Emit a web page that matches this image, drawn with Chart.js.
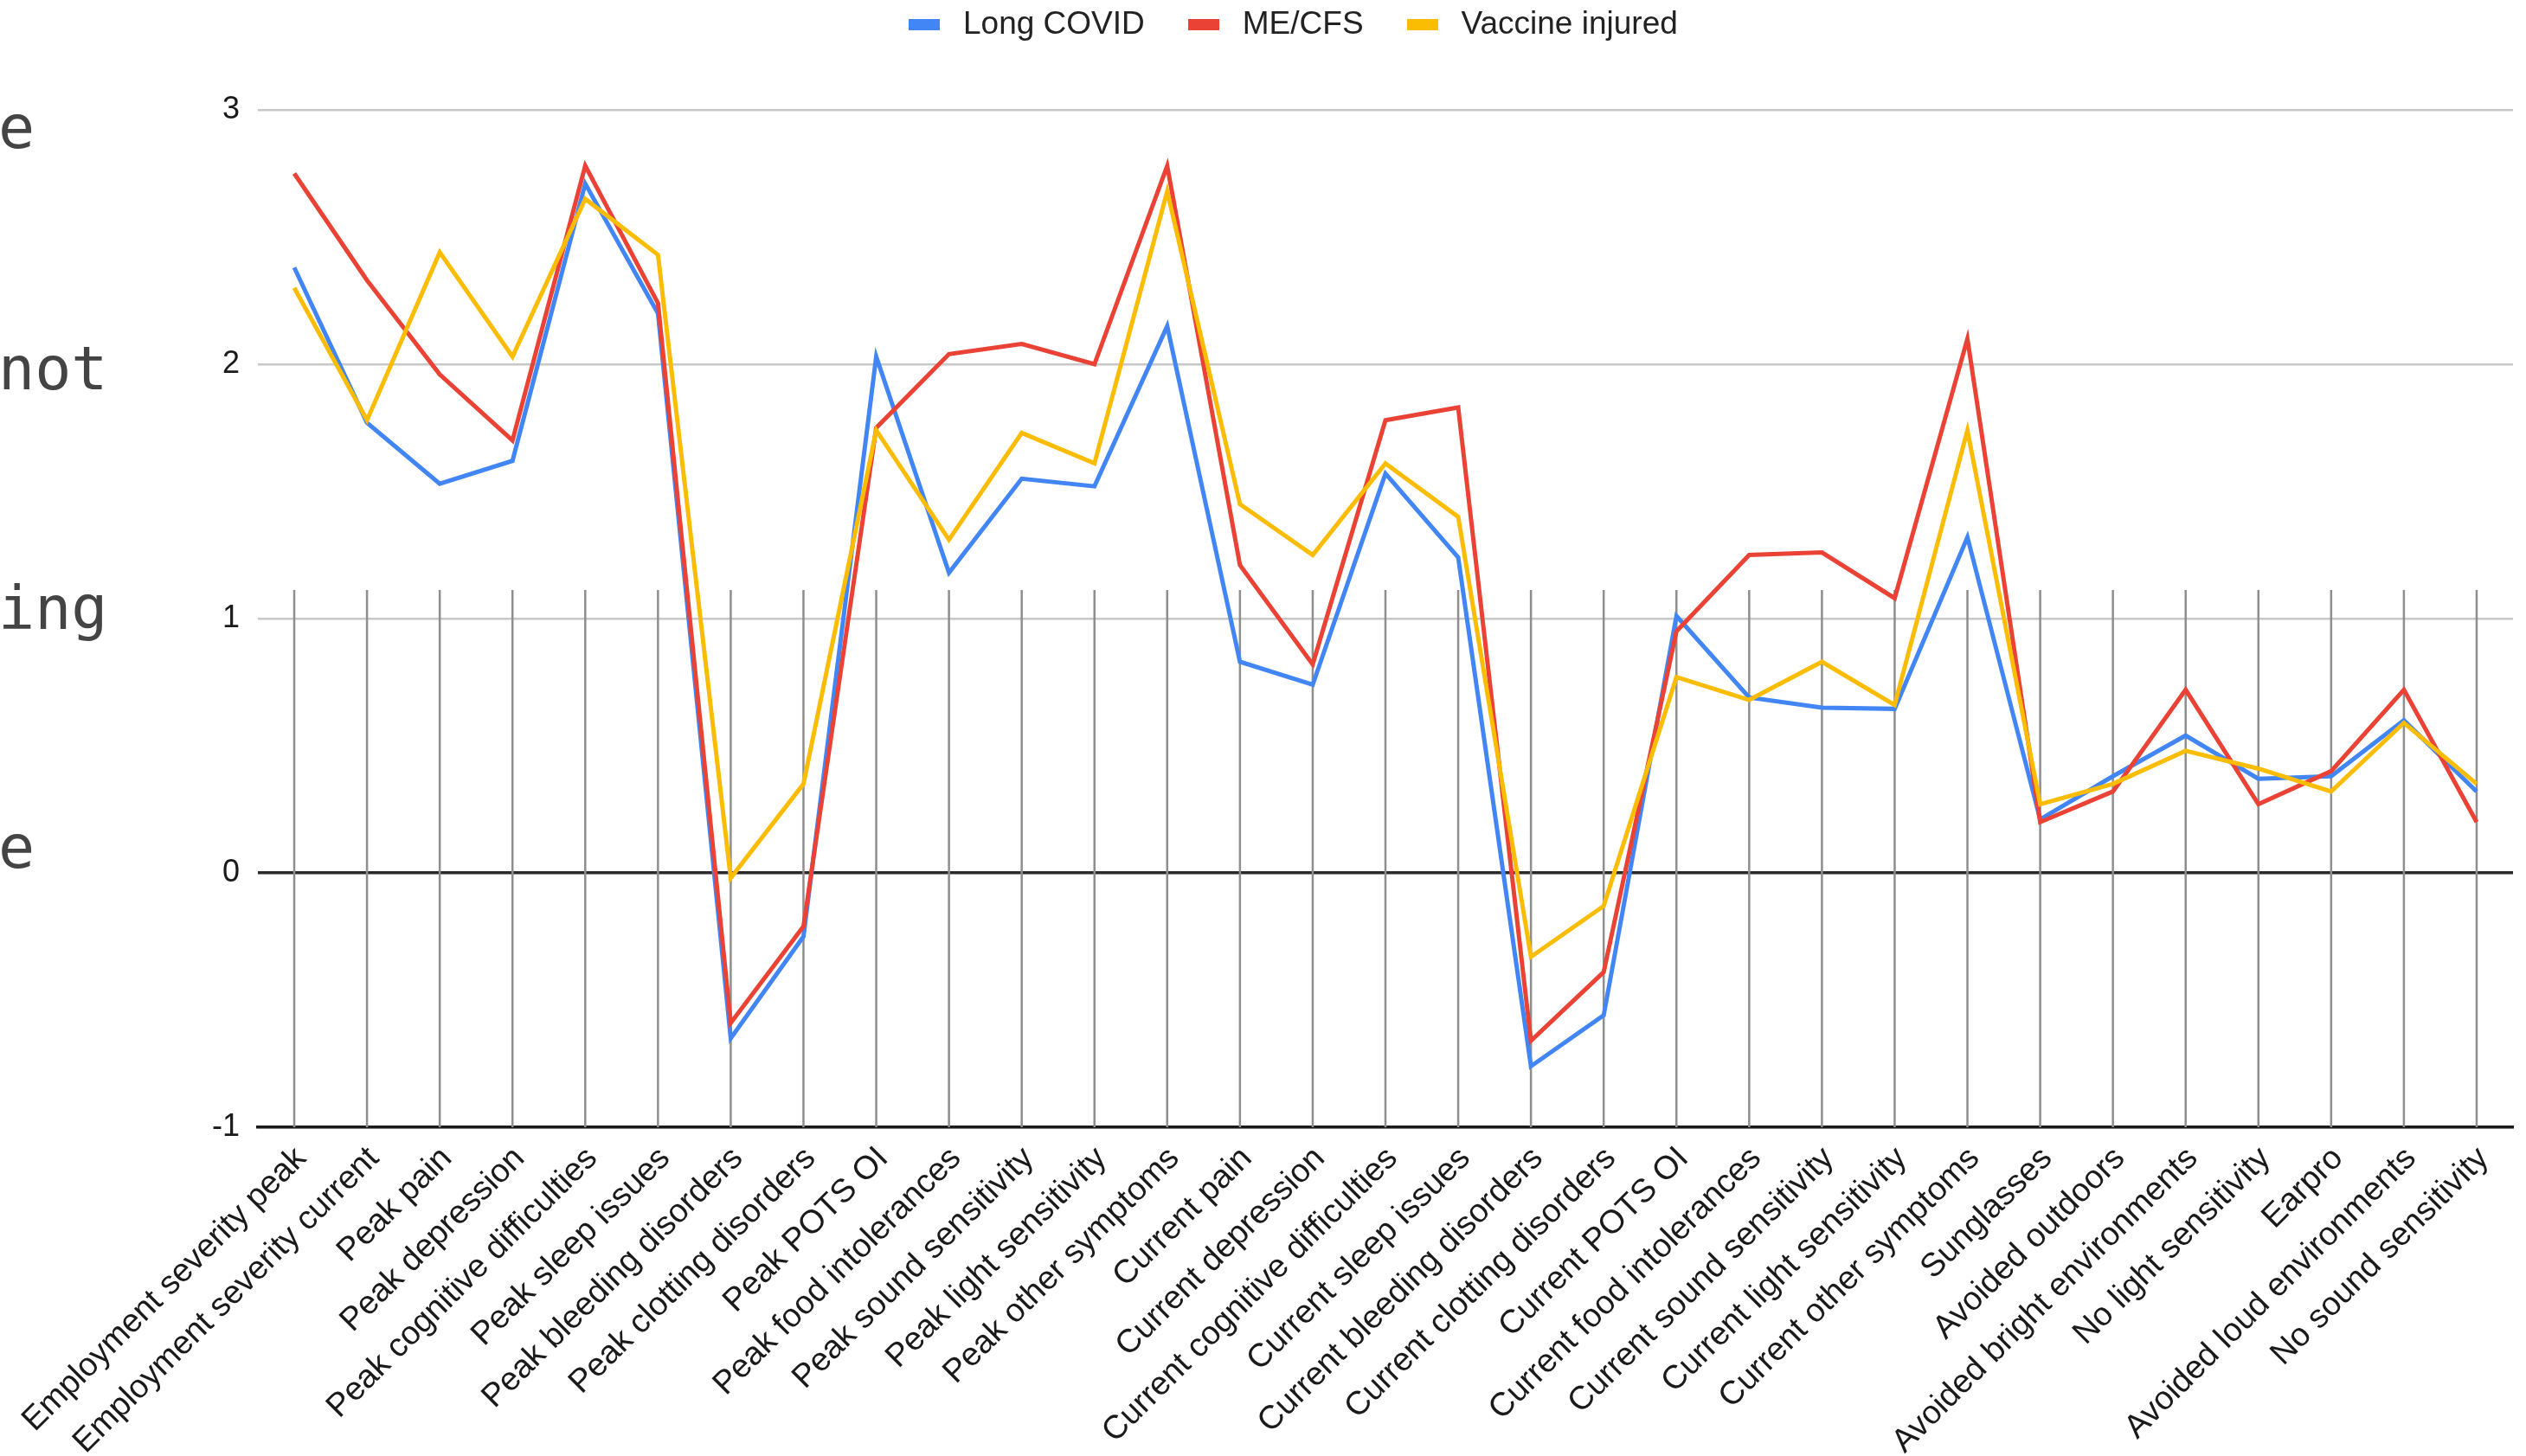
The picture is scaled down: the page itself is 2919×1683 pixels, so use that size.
<!DOCTYPE html>
<html>
<head>
<meta charset="utf-8">
<title>Symptom scores by group</title>
<script src="https://cdn.jsdelivr.net/npm/chart.js@4.4.1/dist/chart.umd.min.js"></script>
<style>
  html, body { margin: 0; padding: 0; background: #ffffff; }
  #wrap { position: relative; width: 2919px; height: 1683px; overflow: hidden; }
  #chart { position: absolute; left: 0; top: 0; }
  #legend {
    position: absolute; left: 1050px; top: 8px;
    display: flex; align-items: center;
    font: 37px "Liberation Sans", Arial, sans-serif; line-height: 37px; color: #222;
  }
  #legend .item { display: flex; align-items: center; margin-right: 50px; }
  #legend .swatch { width: 36px; height: 13px; margin-right: 27px; margin-top: 4px; }
</style>
</head>
<body>
<div id="wrap">
  <canvas id="chart" width="2919" height="1683"></canvas>
  <div id="legend"></div>
</div>
<script>
const categories = [
  'Employment severity peak', 'Employment severity current', 'Peak pain', 'Peak depression',
  'Peak cognitive difficulties', 'Peak sleep issues', 'Peak bleeding disorders', 'Peak clotting disorders',
  'Peak POTS OI', 'Peak food intolerances', 'Peak sound sensitivity', 'Peak light sensitivity',
  'Peak other symptoms', 'Current pain', 'Current depression', 'Current cognitive difficulties',
  'Current sleep issues', 'Current bleeding disorders', 'Current clotting disorders', 'Current POTS OI',
  'Current food intolerances', 'Current sound sensitivity', 'Current light sensitivity', 'Current other symptoms',
  'Sunglasses', 'Avoided outdoors', 'Avoided bright environments', 'No light sensitivity',
  'Earpro', 'Avoided loud environments', 'No sound sensitivity'
];

const seriesNames = ['Long COVID', 'ME/CFS', 'Vaccine injured'];

const longCovid = [
  2.38, 1.77, 1.53, 1.62, 2.71, 2.20, -0.65, -0.25,
  2.03, 1.18, 1.55, 1.52, 2.15, 0.83, 0.74, 1.57,
  1.24, -0.76, -0.56, 1.01, 0.69, 0.65, 0.645, 1.32,
  0.21, 0.38, 0.54, 0.37, 0.38, 0.60, 0.32
];

const meCfs = [
  2.75, 2.33, 1.96, 1.70, 2.78, 2.24, -0.59, -0.21,
  1.75, 2.04, 2.08, 2.00, 2.78, 1.21, 0.82, 1.78,
  1.83, -0.66, -0.39, 0.95, 1.25, 1.26, 1.08, 2.10,
  0.20, 0.32, 0.72, 0.27, 0.40, 0.72, 0.20
];

const vaccineInjured = [
  2.30, 1.78, 2.44, 2.03, 2.65, 2.43, -0.02, 0.35,
  1.74, 1.31, 1.73, 1.61, 2.68, 1.45, 1.25, 1.61,
  1.40, -0.33, -0.13, 0.77, 0.68, 0.83, 0.66, 1.74,
  0.27, 0.35, 0.48, 0.41, 0.32, 0.59, 0.35
];

const yTickValues = [-1, 0, 1, 2, 3];

// Partial row captions that sit at the far left edge
const sideLabels = ['e', 'not', 'ing', 'e'];

const seriesColors = ['#4285F4', '#EA4335', '#FBBC04'];
const FONT = '"Liberation Sans", Arial, sans-serif';

// Vertical category guides, drawn from just above 1 down to the axis
const categoryGuides = {
  id: 'categoryGuides',
  beforeDatasetsDraw(chart) {
    const { ctx, chartArea } = chart;
    const x = chart.scales.x, y = chart.scales.y;
    const top = y.getPixelForValue(1.112);
    ctx.save();
    ctx.strokeStyle = '#8e8e8e';
    ctx.lineWidth = 2.5;
    x.ticks.forEach((t, i) => {
      const px = x.getPixelForTick(i);
      ctx.beginPath();
      ctx.moveTo(px, top);
      ctx.lineTo(px, chartArea.bottom);
      ctx.stroke();
    });
    ctx.restore();
  }
};

// Monospace captions clipped at the left edge
const sideCaptions = {
  id: 'sideCaptions',
  afterDraw(chart) {
    const { ctx } = chart;
    const baselines = [171, 450, 727, 1003];
    ctx.save();
    ctx.font = '70px "DejaVu Sans Mono", monospace';
    ctx.fillStyle = '#444444';
    ctx.textAlign = 'left';
    ctx.textBaseline = 'alphabetic';
    sideLabels.forEach((s, i) => ctx.fillText(s, -2, baselines[i]));
    ctx.restore();
  }
};

const values = [longCovid, meCfs, vaccineInjured];

const chart = new Chart(document.getElementById('chart'), {
  type: 'line',
  data: {
    labels: categories,
    datasets: seriesNames.map((name, i) => ({
      label: name,
      data: values[i],
      borderColor: seriesColors[i],
      backgroundColor: seriesColors[i],
      borderWidth: 5,
      pointRadius: 0,
      pointHoverRadius: 0,
      tension: 0,
      fill: false,
      order: 3 - i
    }))
  },
  options: {
    responsive: false,
    animation: false,
    layout: { padding: { top: 127, right: 15, left: 0, bottom: 0 } },
    plugins: {
      legend: { display: false },
      tooltip: { enabled: false }
    },
    scales: {
      x: {
        offset: true,
        grid: { display: false },
        border: { display: true, color: '#1a1a1a', width: 3.5 },
        ticks: {
          autoSkip: false,
          maxRotation: 45,
          minRotation: 45,
          padding: 6,
          labelOffset: 8,
          color: '#1a1a1a',
          font: { family: FONT, size: 38 }
        },
        afterFit(scale) { scale.height = 380; }
      },
      y: {
        min: -1,
        max: 3,
        afterBuildTicks(scale) { scale.ticks = yTickValues.map(v => ({ value: v })); },
        grid: {
          drawTicks: false,
          color: ctx => (ctx.tick && ctx.tick.value === 0 ? '#2a2a2a' : '#c8c8c8'),
          lineWidth: ctx => (ctx.tick && ctx.tick.value === 0 ? 3.5 : 2.5)
        },
        border: { display: false },
        ticks: {
          padding: 21,
          color: '#1a1a1a',
          font: { family: FONT, size: 36 }
        },
        afterFit(scale) { scale.width = 298; }
      }
    }
  },
  plugins: [categoryGuides, sideCaptions]
});

// Legend row built from the dataset names and colours
const legendEl = document.getElementById('legend');
chart.data.datasets.forEach(ds => {
  const item = document.createElement('div');
  item.className = 'item';
  const sw = document.createElement('span');
  sw.className = 'swatch';
  sw.style.background = ds.borderColor;
  const txt = document.createElement('span');
  txt.textContent = ds.label;
  item.appendChild(sw);
  item.appendChild(txt);
  legendEl.appendChild(item);
});
</script>
</body>
</html>
